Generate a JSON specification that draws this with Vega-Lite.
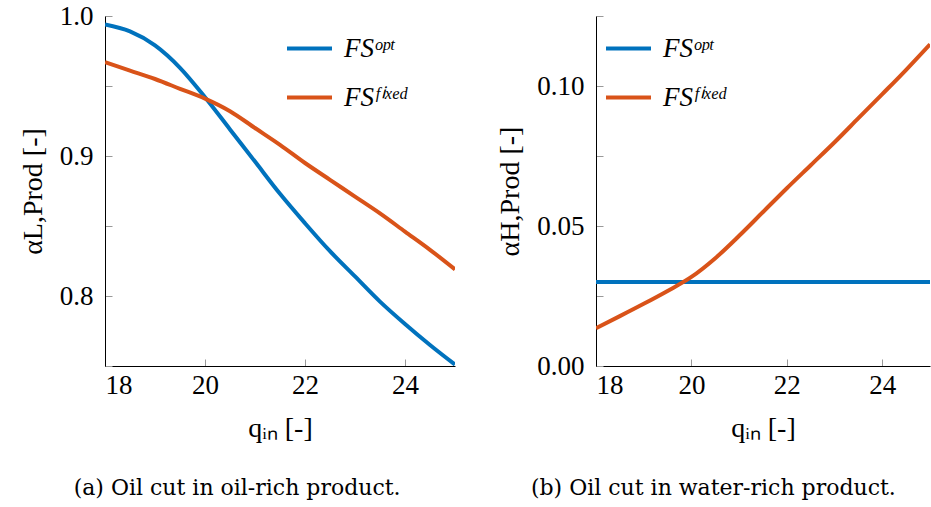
{
  "$schema": "https://vega.github.io/schema/vega-lite/v6.json",
  "padding": {"left": 19, "top": 2, "right": 2, "bottom": 5},
  "spacing": 41,
  "config": {
    "font": "Liberation Serif",
    "view": {"stroke": null},
    "axis": {
      "domainColor": "#000000",
      "domainWidth": 1,
      "tickColor": "#999999",
      "tickSize": -7,
      "tickWidth": 1,
      "labelFontSize": 27,
      "labelColor": "#000000",
      "labelFont": "Liberation Serif",
      "titleFont": "Liberation Serif",
      "titleFontSize": 28,
      "titleFontWeight": "normal",
      "titleColor": "#000000",
      "grid": false
    },
    "legend": {
      "symbolType": "stroke",
      "symbolStrokeWidth": 4,
      "symbolSize": 2025,
      "labelFontSize": 27,
      "labelFont": "Liberation Serif",
      "labelFontStyle": "italic",
      "labelColor": "#000000",
      "rowPadding": 11,
      "title": null,
      "labelOffset": 10
    },
    "title": {
      "font": "DejaVu Serif",
      "fontSize": 22,
      "fontWeight": "normal",
      "color": "#000000"
    }
  },
  "datasets": {
    "left": [
      {"series": "opt", "q": 18, "v": 0.994},
      {"series": "opt", "q": 18.5, "v": 0.989},
      {"series": "opt", "q": 19, "v": 0.979},
      {"series": "opt", "q": 19.5, "v": 0.963},
      {"series": "opt", "q": 20, "v": 0.942},
      {"series": "opt", "q": 20.5, "v": 0.919},
      {"series": "opt", "q": 21, "v": 0.896},
      {"series": "opt", "q": 21.5, "v": 0.873},
      {"series": "opt", "q": 22, "v": 0.852},
      {"series": "opt", "q": 22.5, "v": 0.832},
      {"series": "opt", "q": 23, "v": 0.814},
      {"series": "opt", "q": 23.5, "v": 0.796},
      {"series": "opt", "q": 24, "v": 0.780},
      {"series": "opt", "q": 24.5, "v": 0.765},
      {"series": "opt", "q": 25, "v": 0.751},
      {"series": "fixed", "q": 18, "v": 0.967},
      {"series": "fixed", "q": 18.5, "v": 0.961},
      {"series": "fixed", "q": 19, "v": 0.955},
      {"series": "fixed", "q": 19.5, "v": 0.948},
      {"series": "fixed", "q": 20, "v": 0.941},
      {"series": "fixed", "q": 20.5, "v": 0.932},
      {"series": "fixed", "q": 21, "v": 0.920},
      {"series": "fixed", "q": 21.5, "v": 0.908},
      {"series": "fixed", "q": 22, "v": 0.895},
      {"series": "fixed", "q": 22.5, "v": 0.883},
      {"series": "fixed", "q": 23, "v": 0.871},
      {"series": "fixed", "q": 23.5, "v": 0.859},
      {"series": "fixed", "q": 24, "v": 0.846},
      {"series": "fixed", "q": 24.5, "v": 0.833},
      {"series": "fixed", "q": 25, "v": 0.819}
    ],
    "right": [
      {"series": "opt", "q": 18, "v": 0.03},
      {"series": "opt", "q": 25, "v": 0.03},
      {"series": "fixed", "q": 18, "v": 0.0135},
      {"series": "fixed", "q": 18.5, "v": 0.0178},
      {"series": "fixed", "q": 19, "v": 0.0222},
      {"series": "fixed", "q": 19.5, "v": 0.0268},
      {"series": "fixed", "q": 20, "v": 0.0318},
      {"series": "fixed", "q": 20.5, "v": 0.0385},
      {"series": "fixed", "q": 21, "v": 0.0465},
      {"series": "fixed", "q": 21.5, "v": 0.0550},
      {"series": "fixed", "q": 22, "v": 0.0635},
      {"series": "fixed", "q": 22.5, "v": 0.0717},
      {"series": "fixed", "q": 23, "v": 0.0799},
      {"series": "fixed", "q": 23.5, "v": 0.0885},
      {"series": "fixed", "q": 24, "v": 0.0971},
      {"series": "fixed", "q": 24.5, "v": 0.1058},
      {"series": "fixed", "q": 25, "v": 0.1149}
    ]
  },
  "hconcat": [
    {
      "width": 350,
      "height": 350,
      "title": {"text": "(a) Oil cut in oil-rich product.", "orient": "bottom", "anchor": "middle", "frame": "bounds", "offset": 36},
      "data": {"name": "left"},
      "mark": {"type": "line", "strokeWidth": 4, "clip": true, "interpolate": "monotone"},
      "encoding": {
        "x": {"field": "q", "type": "quantitative", "scale": {"domain": [18, 25], "nice": false, "zero": false},
          "axis": {"values": [18, 20, 22, 24], "title": "qᵢₙ  [-]", "titlePadding": 16, "labelPadding": 13, "labelFont": "Liberation Serif", "titleFont": "Liberation Serif"}},
        "y": {"field": "v", "type": "quantitative", "scale": {"domain": [0.75, 1.0], "nice": false, "zero": false},
          "axis": {"values": [0.75, 0.8, 0.85, 0.9, 0.95, 1.0], "labelExpr": "(abs(datum.value*10 - round(datum.value*10)) < 0.001) ? format(datum.value, '.1f') : ''", "title": "αL,Prod  [-]", "titlePadding": 12, "labelPadding": 19, "labelFont": "Liberation Serif", "titleFont": "Liberation Serif"}},
        "color": {"field": "series", "type": "nominal",
          "scale": {"domain": ["opt", "fixed"], "range": ["#0072BD", "#D95319"]},
          "legend": {"orient": "none", "legendX": 180, "legendY": 8, "labelExpr": "datum.label == 'opt' ? 'FSᵒᵖᵗ' : 'FSᶠⁱˣᵉᵈ'"}}
      }
    },
    {
      "width": 334,
      "height": 350,
      "title": {"text": "(b) Oil cut in water-rich product.", "orient": "bottom", "anchor": "middle", "frame": "bounds", "offset": 36},
      "data": {"name": "right"},
      "mark": {"type": "line", "strokeWidth": 4, "clip": true, "interpolate": "monotone"},
      "encoding": {
        "x": {"field": "q", "type": "quantitative", "scale": {"domain": [18, 25], "nice": false, "zero": false},
          "axis": {"values": [18, 20, 22, 24], "title": "qᵢₙ  [-]", "titlePadding": 16, "labelPadding": 13, "labelFont": "Liberation Serif", "titleFont": "Liberation Serif"}},
        "y": {"field": "v", "type": "quantitative", "scale": {"domain": [0, 0.125], "nice": false, "zero": false},
          "axis": {"values": [0, 0.025, 0.05, 0.075, 0.1, 0.125], "labelExpr": "(abs(datum.value*20 - round(datum.value*20)) < 0.001 && datum.value < 0.12) ? format(datum.value, '.2f') : ''", "title": "αH,Prod  [-]", "titlePadding": 12, "labelPadding": 19, "labelFont": "Liberation Serif", "titleFont": "Liberation Serif"}},
        "color": {"field": "series", "type": "nominal",
          "scale": {"domain": ["opt", "fixed"], "range": ["#0072BD", "#D95319"]},
          "legend": {"orient": "top-left", "offset": 8, "labelExpr": "datum.label == 'opt' ? 'FSᵒᵖᵗ' : 'FSᶠⁱˣᵉᵈ'"}}
      }
    }
  ],
  "resolve": {"scale": {"color": "independent"}, "legend": {"color": "independent"}}
}
